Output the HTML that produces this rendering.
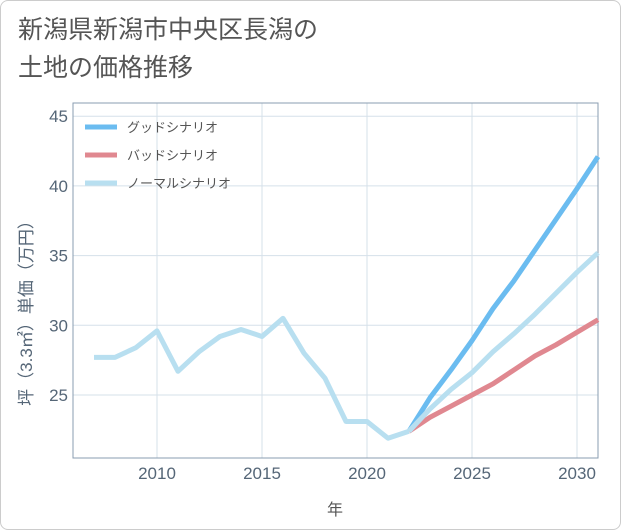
<!DOCTYPE html>
<html><head><meta charset="utf-8"><style>
body{margin:0;background:#fff;}
#wrap{position:relative;width:619px;height:528px;border:1px solid #ccc;border-radius:8px;overflow:hidden;font-family:"Liberation Sans","Noto Sans CJK JP",sans-serif;}
#title{position:absolute;left:17px;top:10px;font-size:25px;line-height:38px;color:#555;}
svg{position:absolute;left:0;top:0;}
</style></head><body>
<div id="wrap">
<div id="title">新潟県新潟市中央区長潟の<br>土地の価格推移</div>
<svg id="chart" width="621" height="530"></svg>
</div>
<script>
const years=[2007,2008,2009,2010,2011,2012,2013,2014,2015,2016,2017,2018,2019,2020,2021,2022];
const history=[27.7,27.7,28.4,29.6,26.7,28.1,29.2,29.7,29.2,30.5,28.0,26.2,23.1,23.1,21.9,22.4];
const futureYears=[2022,2023,2024,2025,2026,2027,2028,2029,2030,2031];
const good=[22.4,24.8,26.8,28.9,31.2,33.2,35.4,37.6,39.8,42.1];
const bad=[22.4,23.4,24.2,25.0,25.8,26.8,27.8,28.6,29.5,30.4];
const normal=[22.4,24.0,25.4,26.6,28.1,29.4,30.8,32.3,33.8,35.2];
const xTicks=[2010,2015,2020,2025,2030];
const yTicks=[25,30,35,40,45];
const series=[["グッドシナリオ","#6bbcf0",good],["バッドシナリオ","#e08890",bad],["ノーマルシナリオ","#b8dff0",normal]];
const L=72,R=597,T=102,B=457;
const x=v=>156+(v-2010)*21;
const y=v=>394-(v-25)*13.94;
const svg=document.getElementById('chart');
const NS='http://www.w3.org/2000/svg';
function mk(t,a){const e=document.createElementNS(NS,t);for(const k in a)e.setAttribute(k,a[k]);svg.appendChild(e);return e;}
xTicks.forEach(v=>{const l=mk('line',{x1:x(v),x2:x(v),y1:T,y2:B,stroke:'#d5e0ea'});


const t=mk('text',{x:x(v),y:478,'text-anchor':'middle','font-size':17,fill:'#556677'});t.textContent=v;

});
yTicks.forEach(v=>{const l=mk('line',{x1:L,x2:R,y1:y(v),y2:y(v),stroke:'#d5e0ea'});


const t=mk('text',{x:67,y:y(v)+6,'text-anchor':'end','font-size':17,fill:'#556677'});t.textContent=v;

});
const fr=mk('rect',{x:L,y:T,width:R-L,height:B-T,fill:'none',stroke:'#8a9cb0'});


function line(xs,vs,c,n){const p=mk('polyline',{points:xs.map((v,i)=>x(v)+','+y(vs[i])).join(' '),fill:'none',stroke:c,'stroke-width':5,'stroke-linejoin':'round'});

}
line(futureYears,good,'#6bbcf0','good-scenario-line');
line(futureYears,bad,'#e08890','bad-scenario-line');
line(futureYears,normal,'#b8dff0','normal-scenario-line');
line(years,history,'#b8dff0','history-line');
series.forEach((s,i)=>{const yy=126+i*28;const l=mk('line',{x1:84,x2:116,y1:yy,y2:yy,stroke:s[1],'stroke-width':5});


const t=mk('text',{x:126,y:yy+5,'font-size':13,fill:'#555'});t.textContent=s[0];

});
const xt=mk('text',{x:334,y:514,'text-anchor':'middle','font-size':16,fill:'#555'});xt.textContent='年';


const yt=mk('text',{x:0,y:0,'text-anchor':'middle','font-size':17,fill:'#556677',transform:'translate(31,308) rotate(-90)'});yt.textContent='坪（3.3㎡）単価（万円）';


</script>
</body></html>
